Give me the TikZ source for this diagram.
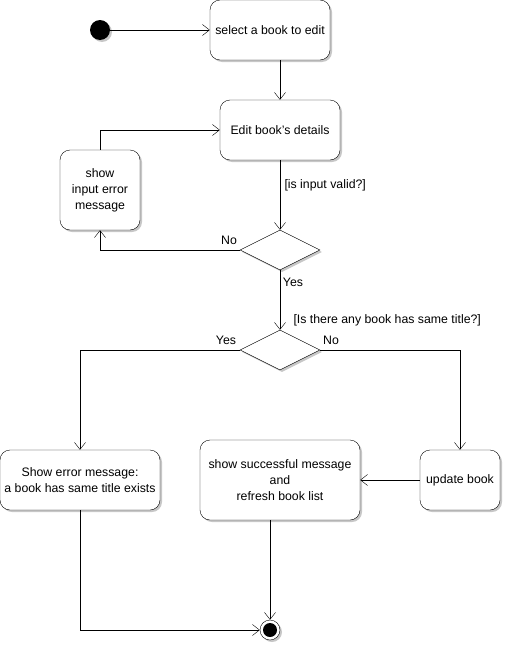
\documentclass[tikz,border=0pt]{standalone}
\usepackage{fontspec}
\setmainfont{Liberation Sans}
\usetikzlibrary{shapes.geometric,shadows,arrows.meta}

\begin{document}
\begin{tikzpicture}[x=1pt,y=-1pt,font=\fontsize{12.3}{16}\selectfont,
  act/.style={rectangle,rounded corners=10pt,draw=black,fill=white,align=center,inner sep=2pt,
    drop shadow={shadow xshift=2pt,shadow yshift=-2pt,fill=black!22,opacity=1}},
  choice/.style={diamond,draw=black,fill=white,inner sep=0pt,minimum width=80pt,minimum height=40pt,
    drop shadow={shadow xshift=2pt,shadow yshift=-2pt,fill=black!22,opacity=1}},
  flow/.style={draw=black,-{Straight Barb[length=7pt,width=11pt]}}]

  \useasboundingbox (0,0) rectangle (505,645);

  \node [style={circle,fill=black,minimum size=20pt,inner sep=0pt,
    drop shadow={shadow xshift=2pt,shadow yshift=-2pt,fill=black!22,opacity=1}}] at (100,30) (start) {};
  \node [act,minimum width=120pt,minimum height=60pt] at (270,30) (select) {select a book to edit};
  \node [act,minimum width=120pt,minimum height=60pt] at (280,130) (edit) {Edit book's details};
  \node [act,minimum width=80pt,minimum height=80pt] at (100,190) (wrong) {show\\input error\\message};
  \node [choice] at (280,250) (valid) {};
  \node [choice] at (280,350) (same) {};
  \node [act,minimum width=160pt,minimum height=60pt] at (80,480) (exists) {Show error message:\\a book has same title exists};
  \node [act,minimum width=160pt,minimum height=80pt] at (280,480) (success) {show successful message\\and\\refresh book list};
  \node [act,minimum width=80pt,minimum height=60pt] at (460,480) (update) {update book};
  \node [style={circle,draw=black,fill=white,minimum size=20pt,inner sep=0pt,
    drop shadow={shadow xshift=2pt,shadow yshift=-2pt,fill=black!22,opacity=1}}] at (270,630) (end) {};
  \fill (end) circle (7pt);

  % guards and branch labels
  \node [anchor=west] at (281,185) (guardvalid) {[is input valid?]};
  \node [anchor=west] at (290,320) (guardsame) {[Is there any book has same title?]};
  \node at (229,240) (novalid) {No};
  \node at (293,282) (yesvalid) {Yes};
  \node at (226,340) (yessame) {Yes};
  \node at (331,340) (nosame) {No};

  % flows
  \draw [flow] (start) -- (select);
  \draw [flow] (edit |- select.south) -- (edit);
  \draw [flow] (edit) -- (valid);
  \draw [flow] (valid.west) -| (wrong.south);
  \draw [flow] (wrong.north) |- (edit.west);
  \draw [flow] (valid) -- (same);
  \draw [flow] (same.west) -| (exists.north);
  \draw [flow] (same.east) -| (update.north);
  \draw [flow] (update) -- (success);
  \draw [flow] (end |- success.south) -- (end);
  \draw [flow] (exists.south) |- (end.west);

\end{tikzpicture}
\end{document}
